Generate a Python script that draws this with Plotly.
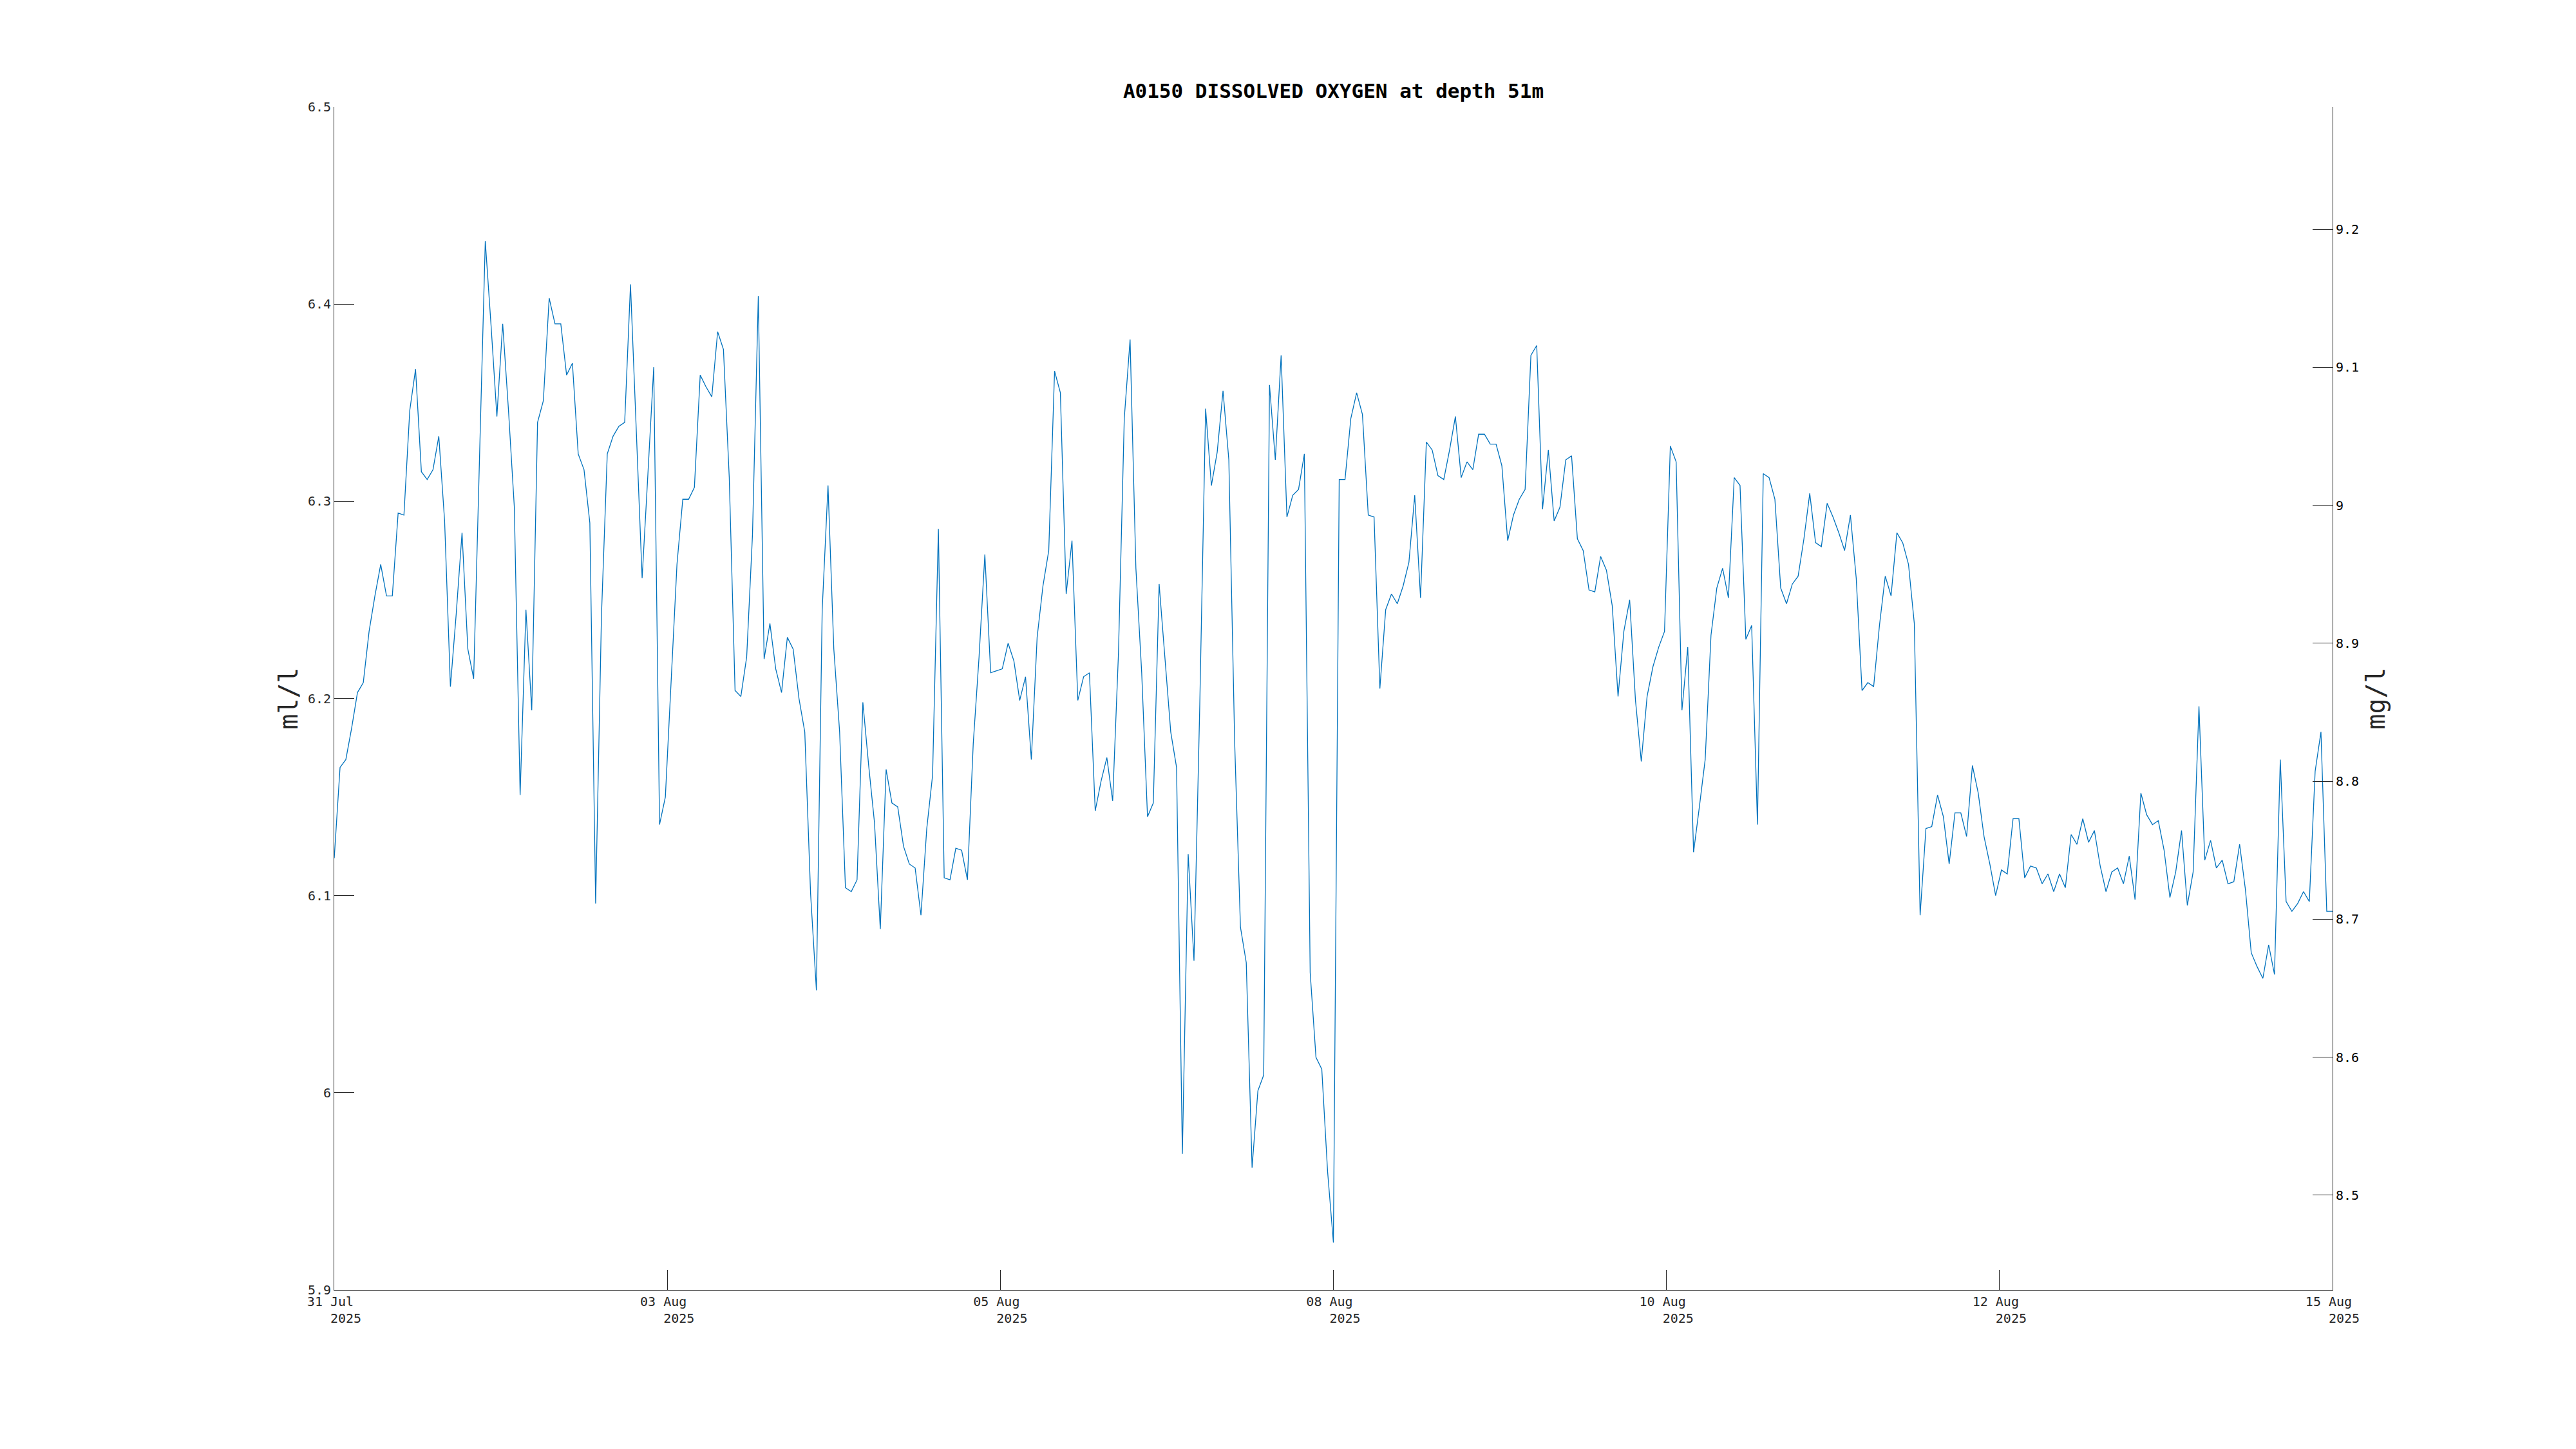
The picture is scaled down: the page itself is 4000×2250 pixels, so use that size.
import pandas as pd
import plotly.graph_objects as go

# Dissolved oxygen (ml/l), hourly samples
do_part1 = [6.119, 6.165, 6.169, 6.185, 6.203, 6.208, 6.234, 6.252, 6.268, 6.252,
            6.252, 6.294, 6.293, 6.346, 6.367, 6.315, 6.311, 6.316, 6.333, 6.290,
            6.206, 6.243, 6.284, 6.225, 6.210, 6.321, 6.432, 6.389, 6.343, 6.390,
            6.346, 6.297, 6.151, 6.245, 6.194, 6.340, 6.351, 6.403, 6.390, 6.390,
            6.364, 6.370, 6.324, 6.316, 6.289, 6.096]
do_part2 = [6.242, 6.324, 6.333, 6.338, 6.340, 6.410, 6.337, 6.261, 6.314, 6.368,
            6.136, 6.150, 6.209, 6.268, 6.301, 6.301, 6.307, 6.364, 6.358, 6.353,
            6.386, 6.377, 6.312, 6.204, 6.201, 6.221, 6.283, 6.404, 6.220, 6.238,
            6.215, 6.203, 6.231, 6.225, 6.200, 6.183, 6.101, 6.052, 6.245, 6.308]
do_part3 = [6.225, 6.183, 6.104, 6.102, 6.108, 6.198, 6.166, 6.137, 6.083, 6.164,
            6.147, 6.145, 6.125, 6.116, 6.114, 6.090, 6.134, 6.161, 6.286, 6.109,
            6.108, 6.124, 6.123, 6.108, 6.177, 6.221, 6.273, 6.213, 6.214, 6.215,
            6.228, 6.219, 6.199, 6.211, 6.169, 6.231, 6.257, 6.275, 6.366, 6.355,
            6.253, 6.280, 6.199, 6.211, 6.213]
do_part4 = [6.143, 6.158, 6.170, 6.148, 6.223, 6.342, 6.382, 6.266, 6.213, 6.140,
            6.147, 6.258, 6.221, 6.183, 6.165, 5.969, 6.121, 6.067, 6.197, 6.347,
            6.308, 6.325, 6.356, 6.321, 6.178, 6.084, 6.066, 5.962, 6.001, 6.009,
            6.359, 6.321, 6.374, 6.292, 6.303, 6.306, 6.324, 6.061, 6.018, 6.012,
            5.960, 5.924, 6.311]
do_part5 = [6.311, 6.342, 6.355, 6.344, 6.293, 6.292, 6.205, 6.245, 6.253, 6.248,
            6.257, 6.269, 6.303, 6.251, 6.330, 6.326, 6.313, 6.311, 6.326, 6.343,
            6.312, 6.320, 6.316, 6.334, 6.334, 6.329, 6.329, 6.318, 6.280, 6.293,
            6.301, 6.306, 6.374, 6.379, 6.296, 6.326, 6.290, 6.297, 6.321, 6.323,
            6.281, 6.275]
do_part6 = [6.255, 6.254, 6.272, 6.265, 6.247, 6.201, 6.234, 6.250, 6.199, 6.168,
            6.201, 6.216, 6.226, 6.234, 6.328, 6.320, 6.194, 6.226, 6.122, 6.145,
            6.169, 6.232, 6.256, 6.266, 6.251, 6.312, 6.308, 6.230, 6.237, 6.136,
            6.314, 6.312, 6.301, 6.256, 6.248, 6.258, 6.262, 6.281, 6.304, 6.279,
            6.277, 6.299, 6.292]
do_part7 = [6.284, 6.275, 6.293, 6.261, 6.204, 6.208, 6.206, 6.237, 6.262, 6.252,
            6.284, 6.279, 6.268, 6.238, 6.090, 6.134, 6.135, 6.151, 6.140, 6.116,
            6.142, 6.142, 6.130, 6.166, 6.152, 6.130, 6.116, 6.100, 6.113, 6.111,
            6.139, 6.139, 6.109, 6.115, 6.114, 6.106, 6.111, 6.102, 6.111, 6.104,
            6.131, 6.126, 6.139]
do_part8 = [6.127, 6.133, 6.115, 6.102, 6.112, 6.114, 6.106, 6.120, 6.098, 6.152,
            6.141, 6.136, 6.138, 6.123, 6.099, 6.112, 6.133, 6.095, 6.112, 6.196,
            6.118, 6.128, 6.114, 6.118, 6.106, 6.107, 6.126, 6.103, 6.071, 6.064,
            6.058, 6.075, 6.060, 6.169, 6.097, 6.092, 6.096, 6.102, 6.097, 6.163,
            6.183, 6.092, 6.092]

start_time = "2025-07-31 10:00"
x_tick_labels = ["31 Jul", "03 Aug", "05 Aug", "08 Aug", "10 Aug", "12 Aug", "15 Aug"]
year_label = "2025"
ml_ticks = [5.9, 6.0, 6.1, 6.2, 6.3, 6.4, 6.5]
ml_tick_labels = ["5.9", "6", "6.1", "6.2", "6.3", "6.4", "6.5"]
mg_ticks = [8.5, 8.6, 8.7, 8.8, 8.9, 9.0, 9.1, 9.2]
mg_tick_labels = ["8.5", "8.6", "8.7", "8.8", "8.9", "9", "9.1", "9.2"]
ML_TO_MG = 1.42903
y_range = [5.9, 6.5]

do_ml = (do_part1 + do_part2 + do_part3 + do_part4 +
         do_part5 + do_part6 + do_part7 + do_part8)
times = pd.date_range(start_time, periods=len(do_ml), freq="h")
do_mg = [v * ML_TO_MG for v in do_ml]

tickvals = pd.date_range(times[0], times[-1], periods=len(x_tick_labels))
NB = "\u00a0"
ticktext = [f"{t}{NB}<br>{NB*3}{year_label}" for t in x_tick_labels]

MONO = "DejaVu Sans Mono"
AX = "#262626"

fig = go.Figure()
fig.add_trace(go.Scatter(x=times, y=do_ml, mode="lines",
                         line=dict(color="#0072BD", width=1.3),
                         showlegend=False, hoverinfo="x+y"))
fig.add_trace(go.Scatter(x=times, y=do_mg, mode="lines", yaxis="y2",
                         line=dict(color="rgba(0,0,0,0)", width=0),
                         showlegend=False, hoverinfo="skip"))

fig.update_layout(
    width=4000, height=2250,
    paper_bgcolor="white", plot_bgcolor="white",
    margin=dict(l=511, r=386, t=158, b=255),
    title=dict(text="<b>A0150 DISSOLVED OXYGEN at depth 51m</b>",
               font=dict(family=MONO, size=31, color="black"),
               x=0.5, xref="paper", xanchor="center",
               y=1 - 133 / 2250, yref="container", yanchor="middle"),
    xaxis=dict(type="date", range=[times[0], times[-1]],
               tickmode="array", tickvals=tickvals, ticktext=ticktext,
               ticks="inside", ticklen=31, tickwidth=1, tickcolor=AX,
               showline=True, linecolor=AX, linewidth=1, mirror=False,
               showgrid=False, zeroline=False,
               tickfont=dict(family=MONO, size=20, color=AX)),
    yaxis=dict(range=y_range, tickmode="array", tickvals=ml_ticks,
               ticktext=ml_tick_labels,
               ticks="inside", ticklen=31, tickwidth=1, tickcolor=AX,
               showline=True, linecolor=AX, linewidth=1,
               showgrid=False, zeroline=False,
               tickfont=dict(family=MONO, size=20, color=AX),
               title=dict(text="ml/l", font=dict(family=MONO, size=40, color=AX),
                          standoff=2)),
    yaxis2=dict(overlaying="y", side="right",
                range=[y_range[0] * ML_TO_MG, y_range[1] * ML_TO_MG],
                tickmode="array", tickvals=mg_ticks, ticktext=mg_tick_labels,
                ticks="inside", ticklen=31, tickwidth=1, tickcolor=AX,
                showline=True, linecolor=AX, linewidth=1,
                showgrid=False, zeroline=False,
                tickfont=dict(family=MONO, size=20, color="black"),
                title=dict(text="mg/l", font=dict(family=MONO, size=40, color=AX),
                           standoff=12)),
)

fig.write_html("out.html")
